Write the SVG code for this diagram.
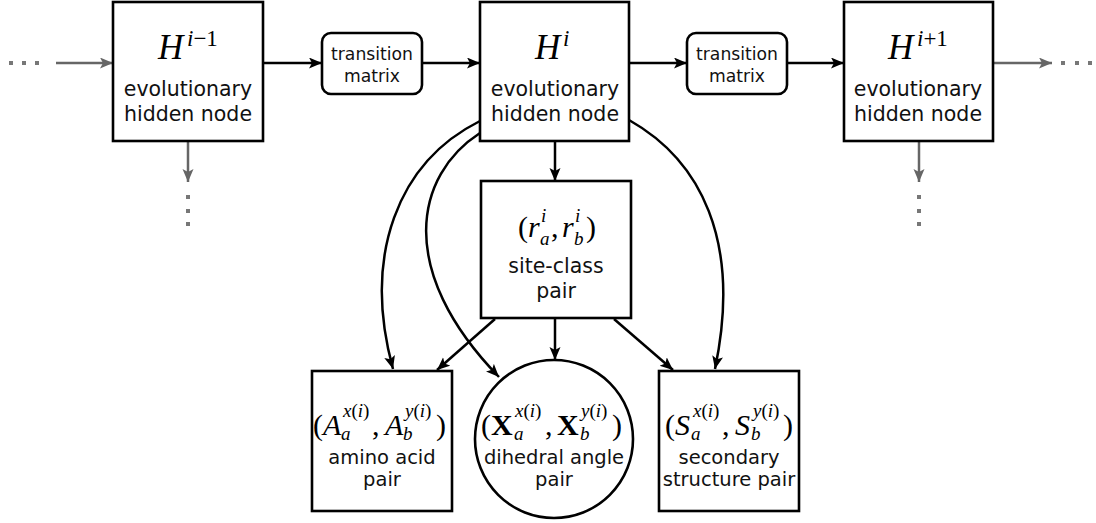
<svg xmlns="http://www.w3.org/2000/svg" width="1096" height="523" viewBox="0 0 1096 523">
<style>
.box{fill:#fff;stroke:#000;stroke-width:2.6}
.lbl{font-family:"DejaVu Sans",sans-serif;font-size:20.5px;text-anchor:middle;fill:#111}
.lbs{font-family:"DejaVu Sans",sans-serif;font-size:19.5px;text-anchor:middle;fill:#111}
.tm{font-family:"DejaVu Sans",sans-serif;font-size:17.2px;text-anchor:middle;fill:#111}
.m{font-family:"Liberation Serif",serif;font-size:30px;fill:#000}
.hm{font-size:35px}
.sh{font-size:23px}
.s{font-size:19px}
.i{font-style:italic}
.b{font-weight:bold}
.c{fill:none;stroke:#000;stroke-width:2.5}
.g{fill:none;stroke:#666;stroke-width:2.5}
.dot{fill:#777}
</style>
<defs>
<marker id="ah" markerUnits="userSpaceOnUse" markerWidth="14" markerHeight="12" refX="13" refY="5.5" orient="auto">
<path d="M0,0 L13,5.5 L0,11 L3,5.5 z" fill="#000"/>
</marker>
<marker id="ag" markerUnits="userSpaceOnUse" markerWidth="14" markerHeight="12" refX="13" refY="5.5" orient="auto">
<path d="M0,0 L13,5.5 L0,11 L3,5.5 z" fill="#666"/>
</marker>
</defs>

<g id="connectors">
<line class="g" x1="56" y1="63" x2="113" y2="63" marker-end="url(#ag)"/>
<line class="c" x1="263" y1="63" x2="322" y2="63" marker-end="url(#ah)"/>
<line class="c" x1="422" y1="63" x2="480" y2="63" marker-end="url(#ah)"/>
<line class="c" x1="629" y1="63" x2="687" y2="63" marker-end="url(#ah)"/>
<line class="c" x1="787" y1="63" x2="844" y2="63" marker-end="url(#ah)"/>
<line class="g" x1="993" y1="63" x2="1052" y2="63" marker-end="url(#ag)"/>
<line class="g" x1="188" y1="141" x2="188" y2="182" marker-end="url(#ag)"/>
<line class="g" x1="919" y1="141" x2="919" y2="182" marker-end="url(#ag)"/>
<line class="c" x1="555" y1="141" x2="555" y2="181" marker-end="url(#ah)"/>
<path class="c" d="M480,121 C398,162 362,255 393,369" marker-end="url(#ah)"/>
<path class="c" d="M480,133 C415,175 395,270 499,377" marker-end="url(#ah)"/>
<path class="c" d="M629,120 C700,160 742,240 715,369" marker-end="url(#ah)"/>
<line class="c" x1="495" y1="319" x2="437" y2="370" marker-end="url(#ah)"/>
<line class="c" x1="555" y1="319" x2="555" y2="360" marker-end="url(#ah)"/>
<line class="c" x1="614" y1="319" x2="673" y2="370" marker-end="url(#ah)"/>
</g>

<g id="dots-left">
<rect class="dot" x="9" y="61" width="4" height="4"/>
<rect class="dot" x="22" y="61" width="4" height="4"/>
<rect class="dot" x="35" y="61" width="4" height="4"/>
</g>
<g id="dots-right">
<rect class="dot" x="1061" y="61" width="4" height="4"/>
<rect class="dot" x="1075" y="61" width="4" height="4"/>
<rect class="dot" x="1088" y="61" width="4" height="4"/>
</g>
<g id="dots-down-left">
<rect class="dot" x="186" y="195" width="4" height="4"/>
<rect class="dot" x="186" y="209" width="4" height="4"/>
<rect class="dot" x="186" y="222" width="4" height="4"/>
</g>
<g id="dots-down-right">
<rect class="dot" x="917" y="195" width="4" height="4"/>
<rect class="dot" x="917" y="209" width="4" height="4"/>
<rect class="dot" x="917" y="222" width="4" height="4"/>
</g>

<g id="node-Him1">
<rect class="box" x="113" y="2" width="150" height="139"/>
<text class="m" x="158" y="59"><tspan class="i hm">H</tspan><tspan class="i sh" x="187" y="46">i</tspan><tspan class="sh">−1</tspan></text>
<text class="lbl" x="188" y="96">evolutionary</text>
<text class="lbl" x="188" y="121">hidden node</text>
</g>

<g id="node-T1">
<rect class="box" x="322" y="33" width="100" height="61" rx="9"/>
<text class="tm" x="372" y="60">transition</text>
<text class="tm" x="372" y="82">matrix</text>
</g>

<g id="node-Hi">
<rect class="box" x="480" y="2" width="149" height="139"/>
<text class="m" x="535" y="59"><tspan class="i hm">H</tspan><tspan class="i sh" x="563" y="46">i</tspan></text>
<text class="lbl" x="555" y="96">evolutionary</text>
<text class="lbl" x="555" y="121">hidden node</text>
</g>

<g id="node-T2">
<rect class="box" x="687" y="33" width="100" height="61" rx="9"/>
<text class="tm" x="737" y="60">transition</text>
<text class="tm" x="737" y="82">matrix</text>
</g>

<g id="node-Hip1">
<rect class="box" x="844" y="2" width="149" height="139"/>
<text class="m" x="888" y="59"><tspan class="i hm">H</tspan><tspan class="i sh" x="917" y="46">i</tspan><tspan class="sh">+1</tspan></text>
<text class="lbl" x="918" y="96">evolutionary</text>
<text class="lbl" x="918" y="121">hidden node</text>
</g>

<g id="node-siteclass">
<rect class="box" x="481" y="181" width="150" height="137"/>
<text class="m" x="518" y="237">(<tspan class="i" x="528">r</tspan><tspan class="i s" x="541" y="222">i</tspan><tspan class="i s" x="540" y="245">a</tspan><tspan x="551" y="237">,</tspan><tspan class="i" x="562">r</tspan><tspan class="i s" x="575" y="222">i</tspan><tspan class="i s" x="574" y="245">b</tspan><tspan x="586" y="237">)</tspan></text>
<text class="lbl" x="556" y="273">site-class</text>
<text class="lbl" x="556" y="298">pair</text>
</g>

<g id="node-amino">
<rect class="box" x="312" y="371" width="140" height="140"/>
<text class="m" x="313" y="435">(<tspan class="i" x="323">A</tspan><tspan class="s" x="343" y="417"><tspan class="i">x</tspan>(<tspan class="i">i</tspan>)</tspan><tspan class="i s" x="341" y="440">a</tspan><tspan x="372" y="435">,</tspan><tspan class="i" x="385">A</tspan><tspan class="s" x="405" y="417"><tspan class="i">y</tspan>(<tspan class="i">i</tspan>)</tspan><tspan class="i s" x="403" y="440">b</tspan><tspan x="436" y="435">)</tspan></text>
<text class="lbs" x="382" y="464">amino acid</text>
<text class="lbs" x="382" y="486">pair</text>
</g>

<g id="node-dihedral">
<circle class="box" cx="554" cy="439" r="79"/>
<text class="m" x="481" y="435">(<tspan class="b" x="491">X</tspan><tspan class="s" x="515" y="417"><tspan class="i">x</tspan>(<tspan class="i">i</tspan>)</tspan><tspan class="i s" x="514" y="440">a</tspan><tspan x="545" y="435">,</tspan><tspan class="b" x="557">X</tspan><tspan class="s" x="581" y="417"><tspan class="i">y</tspan>(<tspan class="i">i</tspan>)</tspan><tspan class="i s" x="580" y="440">b</tspan><tspan x="612" y="435">)</tspan></text>
<text class="lbs" x="554" y="464">dihedral angle</text>
<text class="lbs" x="554" y="486">pair</text>
</g>

<g id="node-secondary">
<rect class="box" x="659" y="371" width="140" height="140"/>
<text class="m" x="665" y="435">(<tspan class="i" x="675">S</tspan><tspan class="s" x="693" y="417"><tspan class="i">x</tspan>(<tspan class="i">i</tspan>)</tspan><tspan class="i s" x="691" y="440">a</tspan><tspan x="722" y="435">,</tspan><tspan class="i" x="735">S</tspan><tspan class="s" x="753" y="417"><tspan class="i">y</tspan>(<tspan class="i">i</tspan>)</tspan><tspan class="i s" x="751" y="440">b</tspan><tspan x="783" y="435">)</tspan></text>
<text class="lbs" x="729" y="464">secondary</text>
<text class="lbs" x="729" y="486">structure pair</text>
</g>
</svg>
